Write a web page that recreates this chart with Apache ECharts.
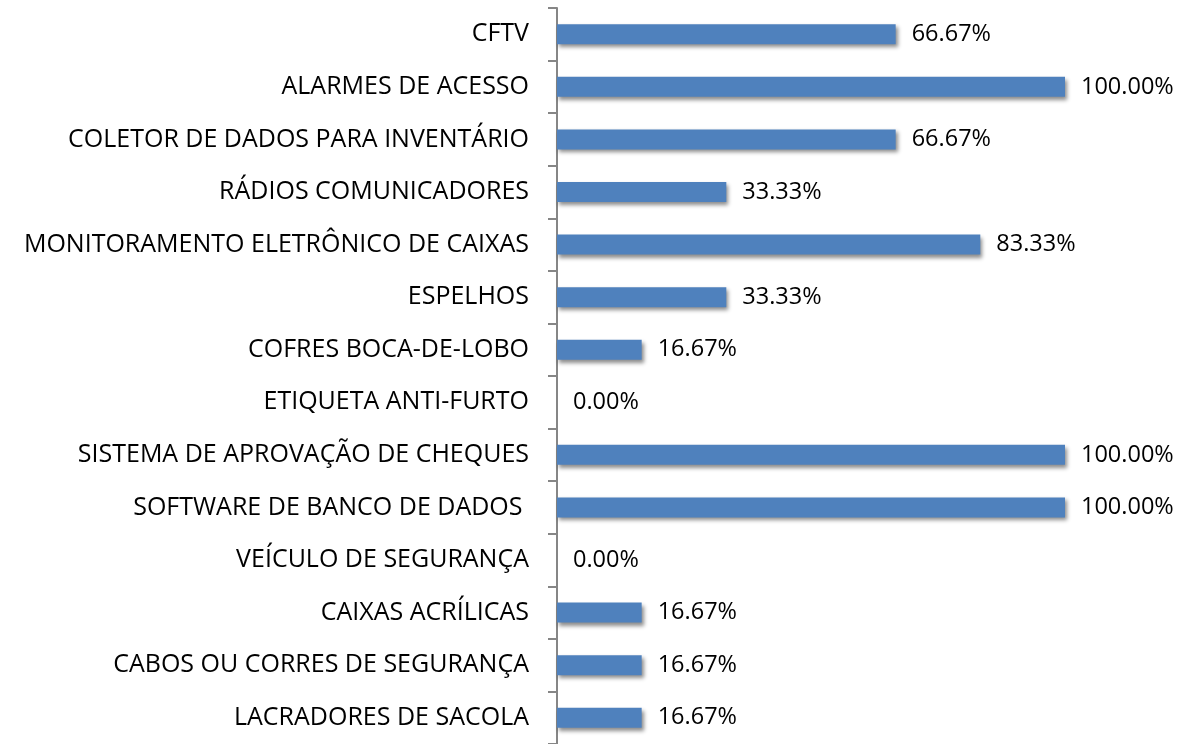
<!DOCTYPE html>
<html>
<head>
<meta charset="utf-8">
<script src="https://cdn.jsdelivr.net/npm/echarts@6/dist/echarts.min.js"></script>
<style>
  html, body { margin: 0; padding: 0; background: #fff; }
  #chart { width: 1188px; height: 744px; }
</style>
</head>
<body>
<div id="chart"></div>
<script>
// categories top -> bottom
var categories = [
  'CFTV',
  'ALARMES DE ACESSO',
  'COLETOR DE DADOS PARA INVENTÁRIO',
  'RÁDIOS COMUNICADORES',
  'MONITORAMENTO ELETRÔNICO DE CAIXAS',
  'ESPELHOS',
  'COFRES BOCA-DE-LOBO',
  'ETIQUETA ANTI-FURTO',
  'SISTEMA DE APROVAÇÃO DE CHEQUES',
  'SOFTWARE DE BANCO DE DADOS ',
  'VEÍCULO DE SEGURANÇA',
  'CAIXAS ACRÍLICAS',
  'CABOS OU CORRES DE SEGURANÇA',
  'LACRADORES DE SACOLA'
];
var percents = [66.67, 100, 66.67, 33.33, 83.33, 33.33, 16.67, 0, 100, 100, 0, 16.67, 16.67, 16.67];

var fontFam = '"Open Sans", sans-serif';

var chart = echarts.init(document.getElementById('chart'), null, { renderer: 'canvas' });
chart.setOption({
  animation: false,
  grid: { left: 557, top: 8, width: 508, height: 740, containLabel: false },
  xAxis: {
    type: 'value',
    min: 0,
    max: 100,
    show: false
  },
  yAxis: {
    type: 'category',
    inverse: true,
    data: categories,
    axisLine: { show: true, lineStyle: { color: '#868686', width: 2 } },
    axisTick: { show: true, length: 9, lineStyle: { color: '#868686', width: 2 } },
    axisLabel: { margin: 28, color: '#000', fontSize: 25, fontFamily: fontFam },
    splitLine: { show: false }
  },
  series: [{
    type: 'bar',
    data: percents,
    barWidth: 20,
    itemStyle: {
      color: '#4F81BD',
      shadowColor: 'rgba(0,0,0,0.45)',
      shadowBlur: 4,
      shadowOffsetX: 2,
      shadowOffsetY: 3
    },
    label: {
      show: true,
      position: 'right',
      distance: 16,
      color: '#000',
      fontSize: 23.5,
      fontFamily: fontFam,
      formatter: function (p) { return p.value.toFixed(2) + '%'; }
    }
  }]
});
</script>
</body>
</html>
